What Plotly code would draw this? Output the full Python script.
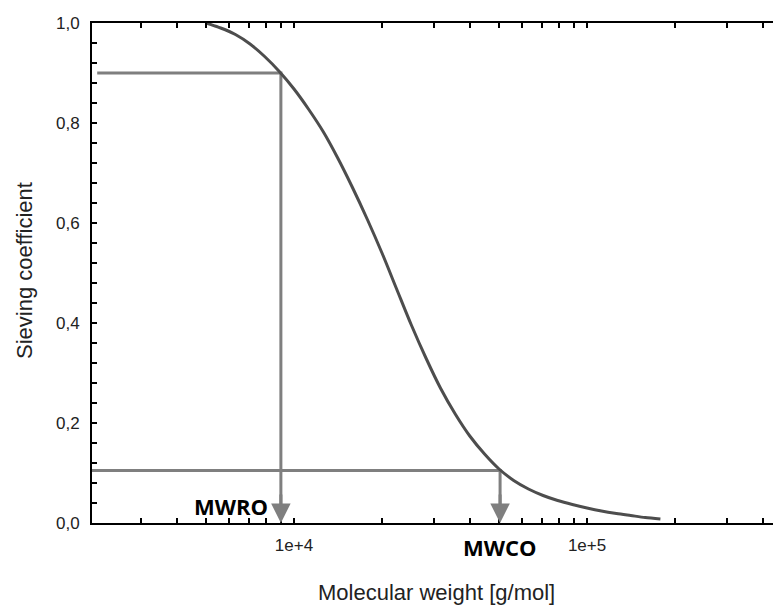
import math
import plotly.graph_objects as go

# ---- data ----
mol_weight = [5010, 5620, 6310, 7080, 7940, 8910, 10000, 11200, 12600, 14100,
              15800, 17800, 20000, 22400, 25100, 28200, 31600, 35500, 39800, 44700,
              50100, 56200, 63100, 70800, 79400, 89100, 100000, 112000, 126000,
              141000, 158000, 178000]
sieving = [1.000, 0.990, 0.977, 0.958, 0.933, 0.903, 0.868, 0.828, 0.782, 0.730,
           0.672, 0.607, 0.539, 0.468, 0.397, 0.330, 0.270, 0.218, 0.174, 0.138,
           0.108, 0.085, 0.068, 0.055, 0.045, 0.037, 0.030, 0.024, 0.019,
           0.015, 0.011, 0.008]

MWRO = 9020
MWCO = 50500
S_RO = 0.90
S_CO = 0.105
guide_start = [2130, 2045]   # left ends of the horizontal guide lines

x_tick_vals = [3000, 4000, 5000, 6000, 7000, 8000, 9000, 10000,
               20000, 30000, 40000, 50000, 60000, 70000, 80000, 90000, 100000,
               200000, 300000, 400000]
x_tick_text = ["", "", "", "", "", "", "", "1e+4",
               "", "", "", "", "", "", "", "", "1e+5",
               "", "", ""]
y_tick_vals = [round(0.04 * i, 2) for i in range(26)]
y_tick_text = ["0,0", "", "", "", "", "0,2", "", "", "", "", "0,4", "", "", "", "",
               "0,6", "", "", "", "", "0,8", "", "", "", "", "1,0"]

curve_col = "#4d4d4d"
guide_col = "#7f7f7f"
font_fam = "Liberation Sans, Arial, sans-serif"

fig = go.Figure()

# guide lines
fig.add_trace(go.Scatter(x=[guide_start[0], MWRO, MWRO], y=[S_RO, S_RO, 0.025],
                         mode="lines", line=dict(color=guide_col, width=3),
                         hoverinfo="skip", showlegend=False))
fig.add_trace(go.Scatter(x=[guide_start[1], MWCO, MWCO], y=[S_CO, S_CO, 0.025],
                         mode="lines", line=dict(color=guide_col, width=3),
                         hoverinfo="skip", showlegend=False))

# sieving curve
fig.add_trace(go.Scatter(x=mol_weight, y=sieving, mode="lines",
                         line=dict(color=curve_col, width=3, shape="spline", smoothing=0.8),
                         showlegend=False))

# arrowheads
for xv in [MWRO, MWCO]:
    fig.add_annotation(x=math.log10(xv), y=0, ax=math.log10(xv), ay=0.06,
                       xref="x", yref="y", axref="x", ayref="y",
                       showarrow=True, arrowhead=2, arrowsize=1.3, arrowwidth=3,
                       arrowcolor=guide_col, text="")

fig.add_annotation(x=math.log10(MWRO), y=0, xref="x", yref="y", text="<b>MWRO</b>",
                   showarrow=False, xanchor="right", yanchor="bottom",
                   xshift=-11, yshift=0,
                   font=dict(family="Open Sans, sans-serif", size=22, color="black"))
fig.add_annotation(x=math.log10(MWCO), y=0, xref="x", yref="y", text="<b>MWCO</b>",
                   showarrow=False, xanchor="center", yanchor="top",
                   yshift=-7,
                   font=dict(family="Open Sans, sans-serif", size=22, color="black"))

# axis titles
fig.add_annotation(x=-0.0987, y=0.506, xref="paper", yref="paper",
                   text="Sieving coefficient", textangle=-90, showarrow=False,
                   xanchor="center", yanchor="middle",
                   font=dict(size=22, family=font_fam, color="#222"))
fig.add_annotation(x=0.5007, y=-0.138, xref="paper", yref="paper",
                   text="Molecular weight [g/mol]", showarrow=False,
                   xanchor="center", yanchor="middle",
                   font=dict(size=22, family=font_fam, color="#222"))

# the page adds an 8px body margin, so the figure is 8px smaller than the window
fig.update_layout(
    width=773, height=598,
    margin=dict(l=84, r=0, t=15, b=83),
    paper_bgcolor="white", plot_bgcolor="white",
    font=dict(family=font_fam, color="#222"),
    showlegend=False,
)

fig.update_xaxes(
    type="log", range=[3.3106, 5.662], automargin=False,
    showgrid=False, zeroline=False,
    showline=True, linecolor="black", linewidth=2, mirror="ticks",
    ticks="inside", ticklen=5, tickwidth=2, tickcolor="black",
    tickmode="array", tickvals=x_tick_vals, ticktext=x_tick_text,
    tickfont=dict(size=17, family=font_fam, color="#222"),
    ticklabelstandoff=6,
)
fig.update_yaxes(
    range=[0, 1.0], automargin=False,
    showgrid=False, zeroline=False,
    showline=True, linecolor="black", linewidth=2, mirror=False,
    ticks="inside", ticklen=5, tickwidth=2, tickcolor="black",
    tickmode="array", tickvals=y_tick_vals, ticktext=y_tick_text,
    tickfont=dict(size=17, family=font_fam, color="#222"),
    ticklabelstandoff=7,
)

fig.write_html("out.html")
